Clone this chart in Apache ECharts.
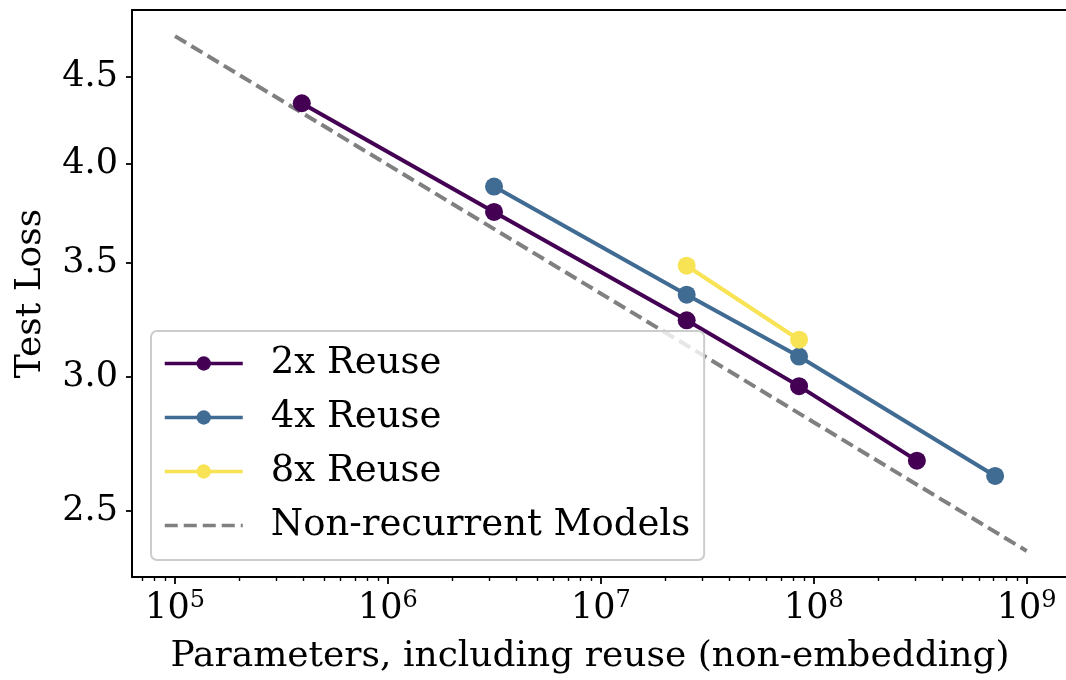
<!DOCTYPE html>
<html>
<head>
<meta charset="utf-8">
<script src="https://cdn.jsdelivr.net/npm/echarts@6/dist/echarts.min.js"></script>
<style>
html, body { margin: 0; padding: 0; background: #ffffff; }
#chart { width: 1066px; height: 680px; }
</style>
</head>
<body>
<div id="chart"></div>
<script>
// Parameter counts (non-embedding, including reuse) and test loss per model family
const reuse2xParams = [3.94e5, 3.15e6, 2.53e7, 8.53e7, 3.05e8];
const reuse2xLoss   = [4.342, 3.748, 3.237, 2.961, 2.677];
const reuse4xParams = [3.15e6, 2.53e7, 8.53e7, 7.11e8];
const reuse4xLoss   = [3.879, 3.351, 3.082, 2.622];
const reuse8xParams = [2.53e7, 8.53e7];
const reuse8xLoss   = [3.485, 3.153];
// Power-law fit of the non-recurrent baseline, given by its two end points
const baselineParams = [1e5, 1e9];
const baselineLoss   = [4.755, 2.369];

const seriesNames = ['2x Reuse', '4x Reuse', '8x Reuse', 'Non-recurrent Models'];
const seriesColors = ['#440154', '#406b93', '#f7e354', '#808080'];

// Axis extents (raw units) and tick positions
const xRange = [6.28e4, 1.53e9];
const yRange = [2.287, 4.926];
const xMajorTicks = [1e5, 1e6, 1e7, 1e8, 1e9];
const yTicks = [2.5, 3.0, 3.5, 4.0, 4.5];

// Both axes are logarithmic: values are placed in log10 space
const lg = Math.log10;
const xMin = lg(xRange[0]), xMax = lg(xRange[1]);
const yMin = lg(yRange[0]), yMax = lg(yRange[1]);

// Minor ticks at 2..9 x 10^n inside the x extent
const xMinorTicks = [];
for (let n = 4; n <= 9; n++) {
  for (let k = 2; k <= 9; k++) {
    const v = k * Math.pow(10, n);
    if (v >= xRange[0] && v <= xRange[1]) xMinorTicks.push(v);
  }
}

function toPoints(params, loss) {
  return params.map((p, i) => [lg(p), lg(loss[i])]);
}

const FONT = 'DejaVu Serif';
const AXIS_COLOR = '#000000';
const LINE_W = 4;

const chart = echarts.init(document.getElementById('chart'), null, { renderer: 'canvas' });

function reuseSeries(idx, params, loss) {
  return {
    name: seriesNames[idx],
    type: 'line',
    xAxisIndex: 0,
    yAxisIndex: 0,
    data: toPoints(params, loss),
    symbol: 'circle',
    symbolSize: 18,
    showSymbol: true,
    z: 3 + idx,
    lineStyle: { color: seriesColors[idx], width: LINE_W },
    itemStyle: { color: seriesColors[idx], borderWidth: 0 },
    emphasis: { disabled: true }
  };
}

const option = {
  animation: false,
  backgroundColor: '#ffffff',
  textStyle: { fontFamily: FONT },
  grid: { left: 132, right: 0, top: 10, bottom: 102, containLabel: false },
  legend: {
    orient: 'vertical',
    left: 151,
    top: 331,
    padding: [14, 14, 16, 12],
    itemGap: 17,
    itemWidth: 78,
    itemHeight: 18,
    backgroundColor: 'rgba(255,255,255,0.8)',
    borderColor: '#cccccc',
    borderWidth: 2,
    borderRadius: 6,
    selectedMode: false,
    lineStyle: { width: 3.5 },
    textStyle: {
      fontFamily: FONT,
      fontSize: 37,
      color: '#000000',
      lineHeight: 36,
      padding: [0, 0, 0, 23]
    },
    data: [
      seriesNames[0],
      seriesNames[1],
      seriesNames[2],
      // dashed baseline: line only, no marker in its key
      { name: seriesNames[3], itemStyle: { color: 'rgba(0,0,0,0)', opacity: 0, borderWidth: 0 } }
    ]
  },
  xAxis: [
    {
      type: 'value',
      min: xMin,
      max: xMax,
      position: 'bottom',
      name: 'Parameters, including reuse (non-embedding)',
      nameLocation: 'middle',
      nameGap: 62,
      nameTextStyle: { fontFamily: FONT, fontSize: 36, color: '#000000', padding: [0, 18, 0, 0] },
      axisLine: { show: true, onZero: false, lineStyle: { color: AXIS_COLOR, width: 2 } },
      axisTick: {
        show: true,
        inside: false,
        length: 7,
        customValues: xMajorTicks.map(lg),
        lineStyle: { color: AXIS_COLOR, width: 1.8 }
      },
      axisLabel: {
        show: true,
        margin: 12,
        hideOverlap: false,
        customValues: xMajorTicks.map(lg),
        formatter: v => '{b|10}{s|' + Math.round(v) + '}',
        rich: {
          b: { fontFamily: FONT, fontSize: 35, color: '#000000', lineHeight: 40 },
          s: { fontFamily: FONT, fontSize: 24, color: '#000000', lineHeight: 28, verticalAlign: 'top' }
        }
      },
      splitLine: { show: false }
    },
    {
      type: 'value',
      min: xMin,
      max: xMax,
      position: 'bottom',
      axisLine: { show: false, onZero: false },
      axisTick: {
        show: true,
        inside: false,
        length: 4,
        customValues: xMinorTicks.map(lg),
        lineStyle: { color: AXIS_COLOR, width: 1.4 }
      },
      axisLabel: { show: false },
      splitLine: { show: false }
    },
    {
      type: 'value',
      min: xMin,
      max: xMax,
      position: 'top',
      axisLine: { show: true, onZero: false, lineStyle: { color: AXIS_COLOR, width: 2 } },
      axisTick: { show: false },
      axisLabel: { show: false },
      splitLine: { show: false }
    }
  ],
  yAxis: [
    {
      type: 'value',
      min: yMin,
      max: yMax,
      position: 'left',
      name: 'Test Loss',
      nameLocation: 'middle',
      nameGap: 83,
      nameTextStyle: { fontFamily: FONT, fontSize: 36, color: '#000000' },
      axisLine: { show: true, onZero: false, lineStyle: { color: AXIS_COLOR, width: 2 } },
      axisTick: {
        show: true,
        inside: false,
        length: 6,
        customValues: yTicks.map(lg),
        lineStyle: { color: AXIS_COLOR, width: 1.8 }
      },
      axisLabel: {
        show: true,
        margin: 14,
        hideOverlap: false,
        customValues: yTicks.map(lg),
        formatter: v => Math.pow(10, v).toFixed(1),
        fontFamily: FONT,
        fontSize: 35,
        color: '#000000'
      },
      splitLine: { show: false }
    }
  ],
  series: [
    reuseSeries(0, reuse2xParams, reuse2xLoss),
    reuseSeries(1, reuse4xParams, reuse4xLoss),
    reuseSeries(2, reuse8xParams, reuse8xLoss),
    {
      name: seriesNames[3],
      type: 'line',
      xAxisIndex: 0,
      yAxisIndex: 0,
      data: toPoints(baselineParams, baselineLoss),
      symbol: 'none',
      z: 2,
      lineStyle: { color: seriesColors[3], width: LINE_W, type: [13, 6] },
      itemStyle: { color: seriesColors[3] },
      emphasis: { disabled: true }
    }
  ]
};

chart.setOption(option);
</script>
</body>
</html>
